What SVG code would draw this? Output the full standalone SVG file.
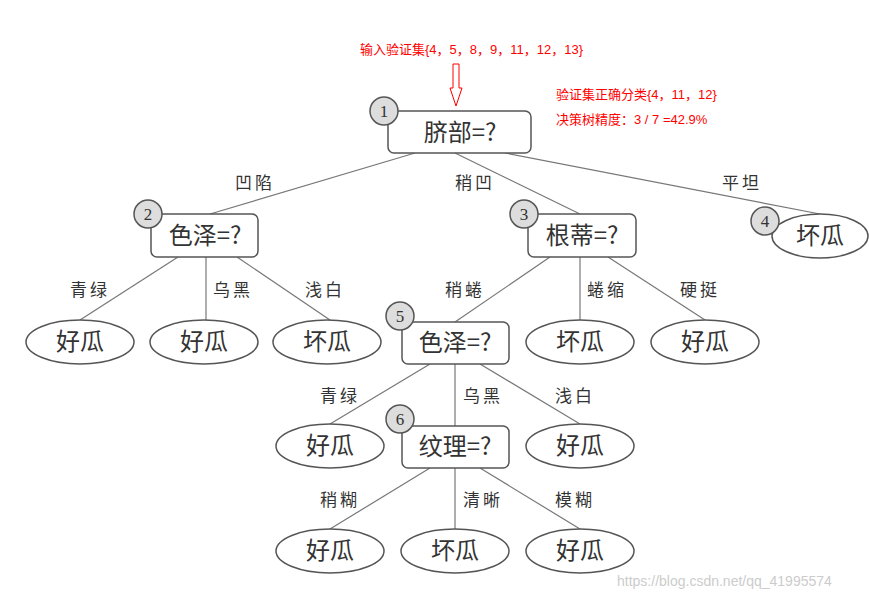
<svg xmlns="http://www.w3.org/2000/svg" width="869" height="600" viewBox="0 0 869 600">
<style>
.b{fill:#fff;stroke:#555;stroke-width:1.5}
.c{fill:#ddd;stroke:#555;stroke-width:1.5}
.n{font-family:"Liberation Serif","Noto Sans CJK SC",serif;font-size:17px;text-anchor:middle;fill:#333}
.t{font-family:"Noto Sans CJK SC",serif;font-size:24px;text-anchor:middle;fill:#333}
.l{font-family:"Noto Sans CJK SC",serif;font-size:17px;text-anchor:middle;fill:#333;letter-spacing:3px}
.r{font-family:"Liberation Sans","Noto Sans CJK SC",sans-serif;font-size:13px;fill:#f00}
.e line{stroke:#777;stroke-width:1.2}
</style>
<rect width="869" height="600" fill="#fff"/>
<text class="r" x="360" y="54">输入验证集{4，5，8，9，11，12，13}</text>
<text class="r" x="556" y="99">验证集正确分类{4，11，12}</text>
<text class="r" x="556" y="124">决策树精度：3 / 7 =42.9%</text>
<polygon points="453,64 459,64 459,88 462,88 456,106 450,88 453,88" fill="#fff" stroke="#f00" stroke-width="1"/>
<g class="e" id="connectors">
<line x1="415" y1="153" x2="210" y2="214"/><line x1="455" y1="153" x2="580" y2="214"/><line x1="505" y1="153" x2="820" y2="214"/>
<line x1="178" y1="257" x2="80" y2="320"/><line x1="206" y1="257" x2="206" y2="320"/><line x1="237" y1="257" x2="330" y2="320"/>
<line x1="550" y1="257" x2="455" y2="322"/><line x1="580" y1="257" x2="580" y2="320"/><line x1="608" y1="257" x2="705" y2="320"/>
<line x1="430" y1="364" x2="330" y2="424"/><line x1="455" y1="364" x2="455" y2="426"/><line x1="480" y1="364" x2="580" y2="424"/>
<line x1="430" y1="468" x2="330" y2="529"/><line x1="455" y1="468" x2="455" y2="529"/><line x1="480" y1="468" x2="580" y2="529"/>
<text class="l" x="255" y="189">凹陷</text><text class="l" x="475" y="189">稍凹</text><text class="l" x="742" y="189">平坦</text>
<text class="l" x="90" y="296">青绿</text><text class="l" x="233" y="296">乌黑</text><text class="l" x="325" y="296">浅白</text>
<text class="l" x="465" y="296">稍蜷</text><text class="l" x="607" y="296">蜷缩</text><text class="l" x="700" y="296">硬挺</text>
<text class="l" x="340" y="402">青绿</text><text class="l" x="483" y="402">乌黑</text><text class="l" x="575" y="402">浅白</text>
<text class="l" x="340" y="506">稍糊</text><text class="l" x="483" y="506">清晰</text><text class="l" x="575" y="506">模糊</text>
</g>
<g id="n1"><rect class="b" x="388" y="111" width="143" height="42" rx="6"/><circle class="c" cx="384" cy="111" r="14"/><text class="n" x="384" y="117">1</text><text class="t" x="460" y="141">脐部=?</text></g>
<g id="n2"><rect class="b" x="151" y="214" width="107" height="43" rx="6"/><circle class="c" cx="148" cy="214" r="14"/><text class="n" x="148" y="220">2</text><text class="t" x="205" y="244">色泽=?</text></g>
<g id="n3"><rect class="b" x="528" y="214" width="108" height="43" rx="6"/><circle class="c" cx="524" cy="214" r="14"/><text class="n" x="524" y="220">3</text><text class="t" x="582" y="244">根蒂=?</text></g>
<g id="n4"><ellipse class="b" cx="820" cy="236" rx="48" ry="22"/><circle class="c" cx="765" cy="221" r="14"/><text class="n" x="765" y="227">4</text><text class="t" x="820" y="244">坏瓜</text></g>
<g id="n5"><rect class="b" x="402" y="322" width="107" height="42" rx="6"/><circle class="c" cx="400" cy="316" r="14"/><text class="n" x="400" y="322">5</text><text class="t" x="455" y="351">色泽=?</text></g>
<g id="n6"><rect class="b" x="402" y="426" width="107" height="42" rx="6"/><circle class="c" cx="400" cy="419" r="14"/><text class="n" x="400" y="425">6</text><text class="t" x="455" y="455">纹理=?</text></g>
<g id="l1"><ellipse class="b" cx="80" cy="342" rx="54" ry="22"/><text class="t" x="80" y="350">好瓜</text></g>
<g id="l2"><ellipse class="b" cx="204" cy="342" rx="54" ry="22"/><text class="t" x="204" y="350">好瓜</text></g>
<g id="l3"><ellipse class="b" cx="327" cy="342" rx="54" ry="22"/><text class="t" x="327" y="350">坏瓜</text></g>
<g id="l4"><ellipse class="b" cx="580" cy="342" rx="54" ry="22"/><text class="t" x="580" y="350">坏瓜</text></g>
<g id="l5"><ellipse class="b" cx="705" cy="342" rx="54" ry="22"/><text class="t" x="705" y="350">好瓜</text></g>
<g id="l6"><ellipse class="b" cx="330" cy="446" rx="54" ry="22"/><text class="t" x="330" y="454">好瓜</text></g>
<g id="l7"><ellipse class="b" cx="580" cy="446" rx="54" ry="22"/><text class="t" x="580" y="454">好瓜</text></g>
<g id="l8"><ellipse class="b" cx="330" cy="551" rx="54" ry="22"/><text class="t" x="330" y="559">好瓜</text></g>
<g id="l9"><ellipse class="b" cx="455" cy="551" rx="54" ry="22"/><text class="t" x="455" y="559">坏瓜</text></g>
<g id="l10"><ellipse class="b" cx="580" cy="551" rx="54" ry="22"/><text class="t" x="580" y="559">好瓜</text></g>
<text x="617" y="586" font-family="Liberation Sans,sans-serif" font-size="14" fill="#ccc">https://blog.csdn.net/qq_41995574</text>
</svg>
